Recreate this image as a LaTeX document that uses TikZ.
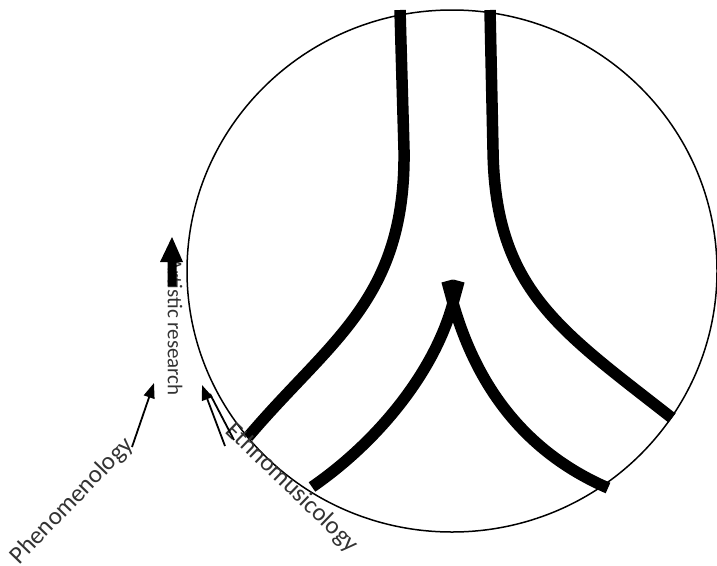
\documentclass[tikz,border=0pt]{standalone}
\usepackage{fontspec}
\setmainfont{Carlito}
\usetikzlibrary{arrows.meta}
\begin{document}
\begin{tikzpicture}[x=1pt,y=-1pt,
  branch/.style={line width=11.5pt,line cap=butt,line join=miter},
  lbl/.style={inner sep=0pt,text=black!80},
  thinarrow/.style={line width=1.8pt,-{Triangle[length=15pt,width=11pt]}}]
\useasboundingbox (0,0) rectangle (717,565);
% circle
\draw[line width=1.5pt] (452,271) ellipse [x radius=265, y radius=261];
% outer branches
\draw[branch] (400,10) -- (404,150) .. controls (406,300) and (330,340) .. (248,437);
\draw[branch] (490,10) -- (493,150) .. controls (495,290) and (560,330) .. (672,418);
% inner inverted V
\draw[branch] (459,281) -- (453,303) .. controls (435,370) and (380,440) .. (312,487);
\draw[branch] (447,281) -- (453,303) .. controls (475,380) and (520,450) .. (608,488);
% labels
\node[lbl,rotate=-90,font=\fontsize{21}{25}\selectfont] (art) at (175,327) {Artistic research};
\node[lbl,rotate=46,font=\fontsize{25}{30}\selectfont] (phen) at (72,501) {Phenomenology};
\node[lbl,rotate=-44,font=\fontsize{25}{30}\selectfont] (eth) at (292,488) {Ethnomusicology};
% big arrow over label
\coordinate (bigS) at (172,286);
\coordinate (bigT) at (172,237);
\fill (167.5,286) -- (167.5,262) -- (160,262) -- (172,237) -- (183,262) -- (176.5,262) -- (176.5,286) -- cycle;
% thin arrows
\coordinate (pS) at (132,447);
\coordinate (pT) at (154,383);
\draw[thinarrow] (pS) -- (pT);
\coordinate (eS) at (225,446);
\coordinate (eT) at (202,385);
\coordinate (eS2) at (234,440);
\coordinate (eM) at (210,394);
\draw[thinarrow] (eS) -- (eT);
\draw[line width=1.8pt] (eS2) -- (eM);
\end{tikzpicture}
\end{document}
